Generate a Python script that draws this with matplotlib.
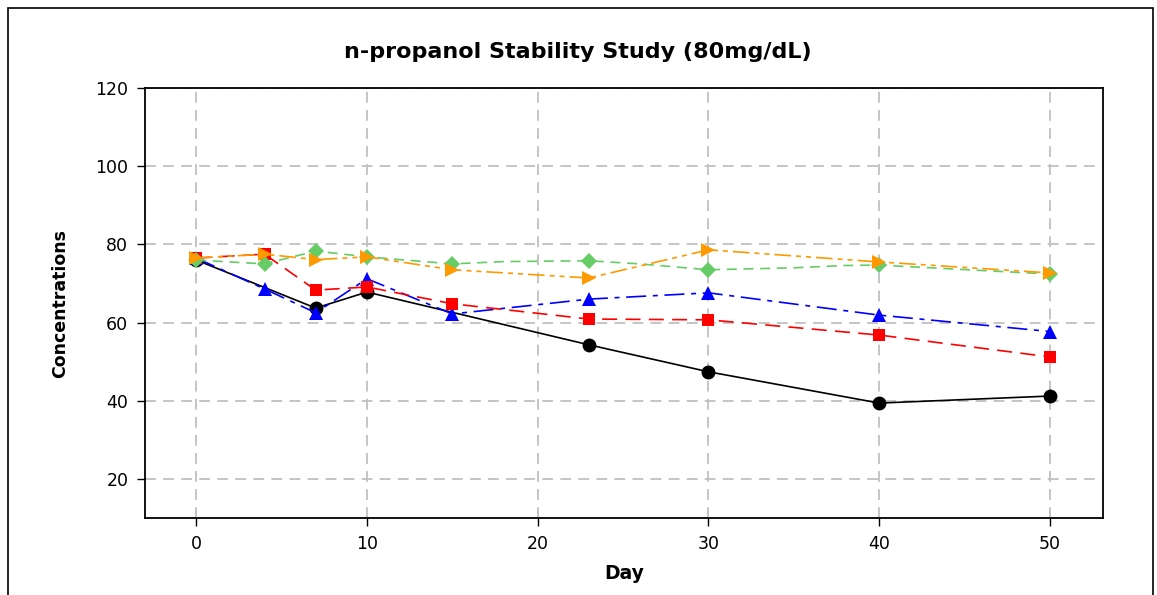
import matplotlib
matplotlib.use("Agg")
import matplotlib.pyplot as plt
from matplotlib.patches import Rectangle

# Data
days_black = [0, 7, 10, 23, 30, 40, 50]
conc_black = [76.0, 63.7, 67.8, 54.3, 47.4, 39.4, 41.2]

days_blue = [0, 4, 7, 10, 15, 23, 30, 40, 50]
conc_blue = [76.5, 68.6, 62.5, 71.2, 62.2, 66.0, 67.6, 61.9, 57.7]

days_red = [0, 4, 7, 10, 15, 23, 30, 40, 50]
conc_red = [76.5, 77.5, 68.3, 69.1, 64.8, 60.9, 60.7, 56.8, 51.2]

# green line has a few unmarked kinks between the markers
days_green = [0, 4, 7, 10, 15, 18, 23, 26, 30, 35, 38, 40, 50]
conc_green = [76.0, 75.0, 78.3, 76.8, 75.0, 75.6, 75.8, 75.0, 73.5, 74.0, 74.6, 74.7, 72.4]
green_marked = [0, 1, 2, 3, 4, 6, 8, 11, 12]

days_orange = [0, 4, 7, 10, 15, 23, 30, 40, 50]
conc_orange = [76.5, 77.5, 76.1, 76.8, 73.5, 71.4, 78.6, 75.5, 72.7]

yticks = [20, 40, 60, 80, 100, 120]
xticks = [0, 10, 20, 30, 40, 50]

fig = plt.figure(figsize=(11.57, 5.95), dpi=100)
ax = fig.add_axes([0.1253, 0.1294, 0.828, 0.7227])

# figure frame (runs off the bottom edge)
fig.patches.append(Rectangle((8/1157, -0.05), 1145/1157, 1.05 - 8/595, transform=fig.transFigure,
                             fill=False, edgecolor="black", linewidth=1.2))

ax.plot(days_black, conc_black, color="black", linestyle="-", linewidth=1.2,
        marker="o", markersize=10, markeredgewidth=0, zorder=3)
ax.plot(days_blue, conc_blue, color="#0000ff", linestyle=(0, (12, 4, 3, 4)), linewidth=1.2,
        marker="^", markersize=10.5, markeredgewidth=0, zorder=4)
ax.plot(days_red, conc_red, color="#ff0000", linestyle=(0, (9, 5)), linewidth=1.2,
        marker="s", markersize=9, markeredgewidth=0, zorder=5)
ax.plot(days_green, conc_green, color="#66cc66", linestyle=(0, (6, 4)), linewidth=1.2,
        marker="D", markersize=8.5, markeredgewidth=0, markevery=green_marked, zorder=6)
ax.plot(days_orange, conc_orange, color="#ff9900", linestyle=(0, (10, 3, 3, 3, 3, 3)), linewidth=1.2,
        marker=">", markersize=10.5, markeredgewidth=0, zorder=7)

ax.set_xlim(-3, 53.1)
ax.set_ylim(10, 120)
ax.set_xticks(xticks)
ax.set_yticks(yticks)
ax.tick_params(axis="both", direction="out", length=6, width=1, labelsize=12.5, pad=6)
ax.grid(True, color="#c0c0c0", linestyle=(0, (6, 4)), linewidth=1.3, zorder=0)
ax.set_axisbelow(True)
for s in ax.spines.values():
    s.set_linewidth(1.3)

ax.set_xlabel("Day", fontsize=13.5, fontweight="bold", labelpad=8)
ax.set_ylabel("Concentrations", fontsize=12.5, fontweight="bold", labelpad=19)
fig.text(0.499, 0.913, "n-propanol Stability Study (80mg/dL)", ha="center", va="center",
         fontsize=16, fontweight="bold")

plt.savefig("out.png", dpi=100)
